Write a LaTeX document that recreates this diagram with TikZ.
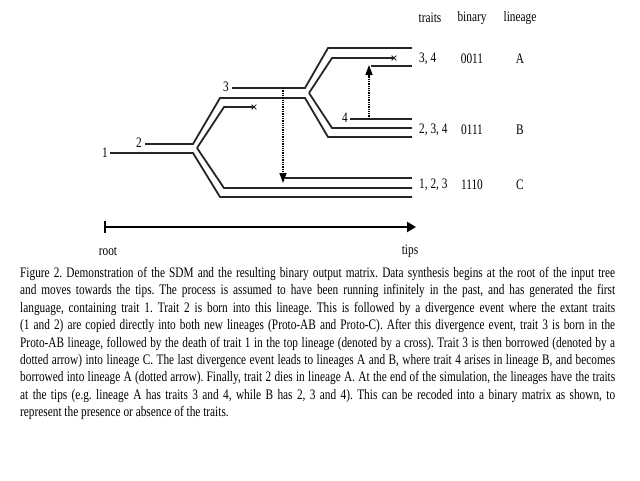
\documentclass[tikz,border=0pt]{standalone}
\usepackage{fontspec}
\setmainfont[FakeStretch=0.78]{Liberation Serif}
\usepackage{tikz}
\usetikzlibrary{arrows.meta, shapes.misc}

\tikzset{
  trait/.style={line width=1.8pt, black!85},
  borrow/.style={densely dotted, line width=1.3pt, -{Triangle[length=10pt,width=7pt]}},
  death/.style={cross out, draw, black!85, line width=0.8pt, minimum size=4pt, inner sep=0pt},
  lab/.style={inner sep=0pt, font=\fontsize{14.5}{16}\selectfont}
}

\begin{document}
\begin{tikzpicture}[x=1pt, y=-1pt]
\useasboundingbox (0,0) rectangle (640,480);

% root lineage and first divergence
\node[lab] (t1) at (105,153) {1};
\node[lab] (t2) at (139,143) {2};
\draw[trait] (110,153) -- (193,153) -- (220,197) -- (412,197);
\draw[trait] (145,144) -- (193,144) -- (220,98) -- (305,98) -- (328,137) -- (412,137);
\node[death] (d1) at (254,107) {};
\draw[trait] (197,148) -- (224,107) -- (d1.center);
\draw[trait] (197,148) -- (224,188) -- (412,188);

% Proto-AB and second divergence
\node[lab] (t3) at (226,87) {3};
\draw[trait] (232,88) -- (305,88) -- (328,48) -- (412,48);
\node[death] (d2) at (394,58) {};
\draw[trait] (309,93) -- (332,58) -- (d2.center);
\draw[trait] (309,93) -- (332,128) -- (412,128);

% borrowing of trait 3 into C
\coordinate (b3) at (283,88);
\coordinate (c3) at (283,183);
\draw[trait] (285,178) -- (412,178);
\draw[borrow] (b3) -- (c3);

% trait 4 in B, borrowed into A
\node[lab] (t4) at (345,118) {4};
\draw[trait] (350,119) -- (412,119);
\coordinate (b4) at (369,119);
\coordinate (a4) at (369,65);
\draw[trait] (371,66) -- (412,66);
\draw[borrow] (b4) -- (a4);

% table at the tips
\node[lab] (htr) at (430,18) {traits};
\node[lab] (hbi) at (472,18) {binary};
\node[lab] (hli) at (520,18) {lineage};
\node[lab, anchor=west] (trA) at (419,59) {3, 4};
\node[lab] (biA) at (472,59) {0011};
\node[lab] (liA) at (520,59) {A};
\node[lab, anchor=west] (trB) at (419,130) {2, 3, 4};
\node[lab] (biB) at (472,130) {0111};
\node[lab] (liB) at (520,130) {B};
\node[lab, anchor=west] (trC) at (419,185) {1, 2, 3};
\node[lab] (biC) at (472,185) {1110};
\node[lab] (liC) at (520,185) {C};

% time axis
\coordinate (start) at (105,227);
\coordinate (end) at (416,227);
\draw[line width=2.5pt, -{Triangle[length=9pt,width=10pt]}] (start) -- (end);
\draw[line width=1.5pt] (105,221) -- (105,233);
\node[lab] (root) at (108,251) {root};
\node[lab] (tips) at (410,251) {tips};

% caption
\node[anchor=north west, text width=595pt, align=justify, inner sep=0pt,
  font=\fontsize{14.5}{17.4}\selectfont\frenchspacing] (cap) at (20,267) {Figure 2. Demonstration of the SDM and the resulting binary output matrix. Data synthesis begins at the root of the input tree\linebreak
and moves towards the tips. The process is assumed to have been running infinitely in the past, and has generated the first\linebreak
language, containing trait 1. Trait 2 is born into this lineage. This is followed by a divergence event where the extant traits\linebreak
(1 and 2) are copied directly into both new lineages (Proto-AB and Proto-C). After this divergence event, trait 3 is born in the\linebreak
Proto-AB lineage, followed by the death of trait 1 in the top lineage (denoted by a cross). Trait 3 is then borrowed (denoted by a\linebreak
dotted arrow) into lineage C. The last divergence event leads to lineages A and B, where trait 4 arises in lineage B, and becomes\linebreak
borrowed into lineage A (dotted arrow). Finally, trait 2 dies in lineage A. At the end of the simulation, the lineages have the traits\linebreak
at the tips (e.g. lineage A has traits 3 and 4, while B has 2, 3 and 4). This can be recoded into a binary matrix as shown, to\linebreak
represent the presence or absence of the traits.};
\end{tikzpicture}
\end{document}
